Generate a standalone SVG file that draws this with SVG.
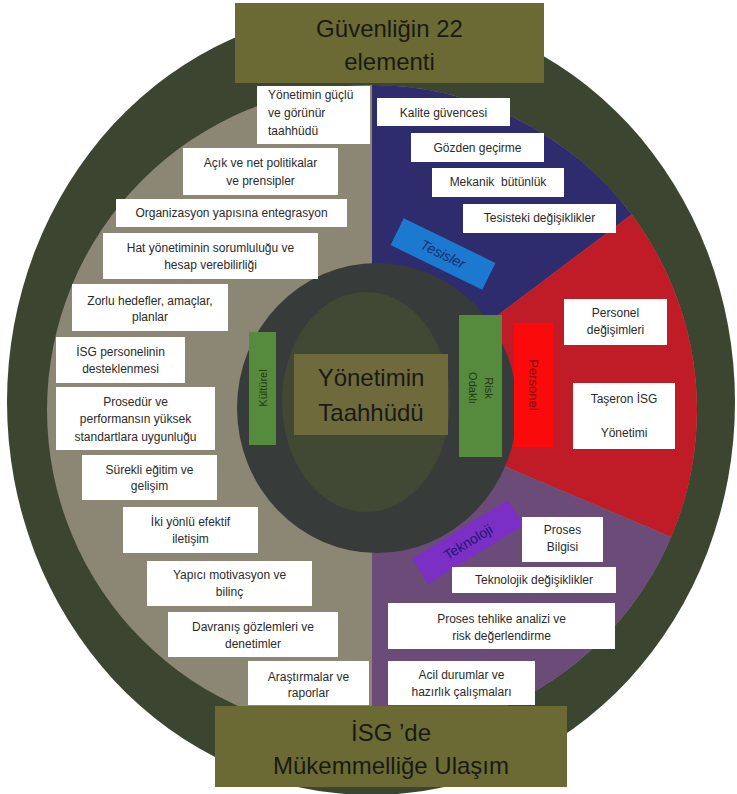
<svg xmlns="http://www.w3.org/2000/svg" width="737" height="794" viewBox="0 0 737 794">
<style>
.box{fill:#ffffff}
.t{font-family:"Liberation Sans",Arial,sans-serif;font-size:12px;fill:#2a2a2a;text-anchor:middle}
.tl{font-family:"Liberation Sans",Arial,sans-serif;font-size:12px;fill:#2a2a2a;text-anchor:start}
.big{font-family:"Liberation Sans",Arial,sans-serif;font-size:24px;fill:#1a1a14;text-anchor:middle}
.lab{font-family:"Liberation Sans",Arial,sans-serif;text-anchor:middle;dominant-baseline:central}
.olive{fill:#6b6a34}
.green{fill:#568a3c}
</style>
<g id="background">
<ellipse cx="371" cy="402" rx="364" ry="393" fill="#3c4530"/>
<circle cx="372" cy="410" r="325" fill="#8c8675"/>
<path d="M372,410 L372,85 A325,325 0 0 1 631.6,214.4 Z" fill="#2e2c6c"/>
<path d="M372,410 L631.6,214.4 A325,325 0 0 1 671.2,537 Z" fill="#c01c28"/>
<path d="M372,410 L671.2,537 A325,325 0 0 1 372,735 Z" fill="#6b4c78"/>
<ellipse cx="377" cy="408" rx="140" ry="145" fill="#373c3a"/>
<ellipse cx="366" cy="402" rx="84" ry="110" fill="#414834"/>
</g>
<g id="connectors"/>
<g id="center">
<rect x="294" y="354" width="154" height="81" fill="#6e6a3c"/>
<text class="big" x="371" y="386">Yönetimin</text>
<text class="big" x="371" y="421">Taahhüdü</text>
</g>
<g id="kulturel">
<rect class="green" x="249" y="332" width="27" height="113"/>
<text class="lab" transform="translate(262.5,388) rotate(-90)" font-size="11" fill="#1e3a14">Kültürel</text>
</g>
<g id="risk-odakli">
<rect class="green" x="459" y="315" width="43" height="142"/>
<text class="lab" transform="translate(480.5,388) rotate(90)" font-size="11" fill="#1e3a14"><tspan x="0" y="-8">Risk</tspan><tspan x="0" y="8">Odaklı</tspan></text>
</g>
<g id="personel-label">
<rect x="514" y="323" width="39" height="124" fill="#fa0a0a"/>
<text class="lab" transform="translate(533.5,385) rotate(90)" font-size="13" fill="#7a1010">Personel</text>
</g>
<g id="tesisler-label">
<g transform="translate(443,254) rotate(26)">
<rect x="-51" y="-15" width="102" height="30" fill="#1b7ad0"/>
<text class="lab" x="0" y="0" font-size="14" font-style="italic" fill="#1b2a6b">Tesisler</text>
</g>
</g>
<g id="teknoloji-label">
<g transform="translate(468,542) rotate(-31.5)">
<rect x="-56" y="-15" width="112" height="30" fill="#7b2fc4"/>
<text class="lab" x="0" y="0" font-size="14" fill="#1a1a70">Teknoloji</text>
</g>
</g>
<g id="n1"><rect class="box" x="257" y="86" width="113" height="58"/><text class="tl" x="268" y="99">Yönetimin güçlü</text><text class="tl" x="268" y="117">ve görünür</text><text class="tl" x="268" y="135">taahhüdü</text></g>
<g id="n2"><rect class="box" x="183" y="148" width="155" height="47"/><text class="t" x="260.5" y="167">Açık ve net politikalar</text><text class="t" x="260.5" y="185">ve prensipler</text></g>
<g id="n3"><rect class="box" x="116" y="199" width="231" height="28"/><text class="t" x="231.5" y="217">Organizasyon yapısına entegrasyon</text></g>
<g id="n4"><rect class="box" x="103" y="233" width="215" height="46"/><text class="t" x="210.5" y="252">Hat yönetiminin sorumluluğu ve</text><text class="t" x="210.5" y="269">hesap verebilirliği</text></g>
<g id="n5"><rect class="box" x="72" y="284" width="156" height="47"/><text class="t" x="150" y="305">Zorlu hedefler, amaçlar,</text><text class="t" x="150" y="321">planlar</text></g>
<g id="n6"><rect class="box" x="56" y="337" width="129" height="46"/><text class="t" x="120.5" y="356">İSG personelinin</text><text class="t" x="120.5" y="373">desteklenmesi</text></g>
<g id="n7"><rect class="box" x="56" y="387" width="159" height="63"/><text class="t" x="135.5" y="406">Prosedür ve</text><text class="t" x="135.5" y="423">performansın yüksek</text><text class="t" x="135.5" y="441">standartlara uygunluğu</text></g>
<g id="n8"><rect class="box" x="82" y="455" width="135" height="45"/><text class="t" x="149.5" y="474">Sürekli eğitim ve</text><text class="t" x="149.5" y="490">gelişim</text></g>
<g id="n9"><rect class="box" x="123" y="507" width="135" height="46"/><text class="t" x="190.5" y="526">İki yönlü efektif</text><text class="t" x="190.5" y="543">iletişim</text></g>
<g id="n10"><rect class="box" x="147" y="561" width="165" height="45"/><text class="t" x="229.5" y="579">Yapıcı motivasyon ve</text><text class="t" x="229.5" y="596">bilinç</text></g>
<g id="n11"><rect class="box" x="168" y="612" width="170" height="45"/><text class="t" x="253" y="631">Davranış gözlemleri ve</text><text class="t" x="253" y="648">denetimler</text></g>
<g id="n12"><rect class="box" x="248" y="661" width="121" height="44"/><text class="t" x="308.5" y="681">Araştırmalar ve</text><text class="t" x="308.5" y="697">raporlar</text></g>
<g id="n13"><rect class="box" x="377" y="98" width="133" height="28"/><text class="t" x="443.5" y="117">Kalite güvencesi</text></g>
<g id="n14"><rect class="box" x="411" y="133" width="133" height="29"/><text class="t" x="477.5" y="152">Gözden geçirme</text></g>
<g id="n15"><rect class="box" x="432" y="168" width="132" height="29"/><text class="t" x="498" y="186" xml:space="preserve">Mekanik  bütünlük</text></g>
<g id="n16"><rect class="box" x="463" y="204" width="153" height="29"/><text class="t" x="539.5" y="222">Tesisteki değişiklikler</text></g>
<g id="n17"><rect class="box" x="564" y="299" width="103" height="46"/><text class="t" x="615.5" y="317">Personel</text><text class="t" x="615.5" y="334">değişimleri</text></g>
<g id="n18"><rect class="box" x="573" y="383" width="102" height="66"/><text class="t" x="624" y="403">Taşeron İSG</text><text class="t" x="624" y="437">Yönetimi</text></g>
<g id="n19"><rect class="box" x="522" y="517" width="81" height="45"/><text class="t" x="562.5" y="534">Proses</text><text class="t" x="562.5" y="551">Bilgisi</text></g>
<g id="n20"><rect class="box" x="452" y="567" width="164" height="26"/><text class="t" x="534" y="584">Teknolojik değişiklikler</text></g>
<g id="n21"><rect class="box" x="388" y="603" width="227" height="46"/><text class="t" x="501.5" y="623">Proses tehlike analizi ve</text><text class="t" x="501.5" y="640">risk değerlendirme</text></g>
<g id="n22"><rect class="box" x="388" y="661" width="147" height="44"/><text class="t" x="461.5" y="679">Acil durumlar ve</text><text class="t" x="461.5" y="696">hazırlık çalışmaları</text></g>
<g id="title">
<rect class="olive" x="235" y="3" width="309" height="80"/>
<text class="big" x="389.5" y="37">Güvenliğin 22</text>
<text class="big" x="389.5" y="70">elementi</text>
</g>
<g id="footer">
<rect class="olive" x="215" y="706" width="352" height="81"/>
<text class="big" x="391" y="741">İSG ’de</text>
<text class="big" x="391" y="774">Mükemmelliğe Ulaşım</text>
</g>
</svg>
